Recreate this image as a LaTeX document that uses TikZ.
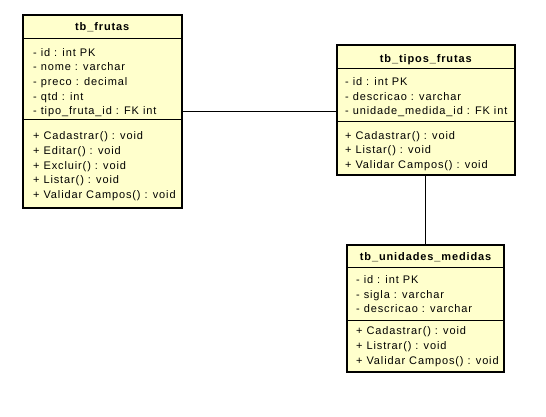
\documentclass[tikz,border=0pt]{standalone}
\usepackage{fontspec}
\setmainfont{Liberation Sans}[LetterSpace=8]
\definecolor{umlfill}{HTML}{FFFFCC}
\tikzset{
  umlbox/.style={draw=black, line width=2pt, fill=umlfill, inner sep=0pt, outer sep=0pt},
  sepline/.style={draw=black, line width=1pt},
  link/.style={draw=black, line width=1pt},
  umltitle/.style={anchor=base, inner sep=0pt, font=\fontsize{11pt}{13pt}\selectfont\bfseries},
  member/.style={anchor=base west, inner sep=0pt, font=\fontsize{11pt}{13pt}\selectfont},
}
\begin{document}
\begin{tikzpicture}[x=1pt,y=1pt]
\useasboundingbox (0,0) rectangle (546,-416);
% boxes
\node[umlbox, minimum width=158.5pt, minimum height=193pt] (frutas) at (102.25,-111.5) {};
\node[umlbox, minimum width=177.7pt, minimum height=130.3pt] (tipos) at (425.85,-110.15) {};
\node[umlbox, minimum width=156.8pt, minimum height=127.5pt] (unid) at (425.6,-308.25) {};
% connectors
\draw[link] (frutas.east |- 0,-111) -- (tipos.west |- 0,-111);
\draw[link] (tipos.south) -- (tipos.south |- unid.north);
% separators
\draw[sepline] (frutas.west |- 0,-38) -- (frutas.east |- 0,-38);
\draw[sepline] (frutas.west |- 0,-119) -- (frutas.east |- 0,-119);
\draw[sepline] (tipos.west |- 0,-68) -- (tipos.east |- 0,-68);
\draw[sepline] (tipos.west |- 0,-121) -- (tipos.east |- 0,-121);
\draw[sepline] (unid.west |- 0,-267) -- (unid.east |- 0,-267);
\draw[sepline] (unid.west |- 0,-320) -- (unid.east |- 0,-320);
% tb_frutas
\node[umltitle] (ft) at (102.25,-30.7) {tb\_frutas};
\node[member] (fa1) at (33,-56) {- id : int PK};
\node[member] (fa2) at (33,-70.7) {- nome : varchar};
\node[member] (fa3) at (33,-85.4) {- preco : decimal};
\node[member] (fa4) at (33,-100.1) {- qtd : int};
\node[member] (fa5) at (33,-114.8) {- tipo\_fruta\_id : FK int};
\node[member] (fm1) at (33,-139.7) {+ Cadastrar() : void};
\node[member] (fm2) at (33,-154.4) {+ Editar() : void};
\node[member] (fm3) at (33,-169.1) {+ Excluir() : void};
\node[member] (fm4) at (33,-183.8) {+ Listar() : void};
\node[member] (fm5) at (33,-198.5) {+ Validar Campos() : void};
% tb_tipos_frutas
\node[umltitle] (tt) at (425.85,-62) {tb\_tipos\_frutas};
\node[member] (ta1) at (345,-85.7) {- id : int PK};
\node[member] (ta2) at (345,-100.2) {- descricao : varchar};
\node[member] (ta3) at (345,-114.7) {- unidade\_medida\_id : FK int};
\node[member] (tm1) at (345,-139) {+ Cadastrar() : void};
\node[member] (tm2) at (345,-153.7) {+ Listar() : void};
\node[member] (tm3) at (345,-168.4) {+ Validar Campos() : void};
% tb_unidades_medidas
\node[umltitle] (ut) at (425.6,-260.5) {tb\_unidades\_medidas};
\node[member] (ua1) at (356,-283.5) {- id : int PK};
\node[member] (ua2) at (356,-298) {- sigla : varchar};
\node[member] (ua3) at (356,-312.5) {- descricao : varchar};
\node[member] (um1) at (356,-334.7) {+ Cadastrar() : void};
\node[member] (um2) at (356,-349.4) {+ Listrar() : void};
\node[member] (um3) at (356,-364) {+ Validar Campos() : void};
\end{tikzpicture}
\end{document}
